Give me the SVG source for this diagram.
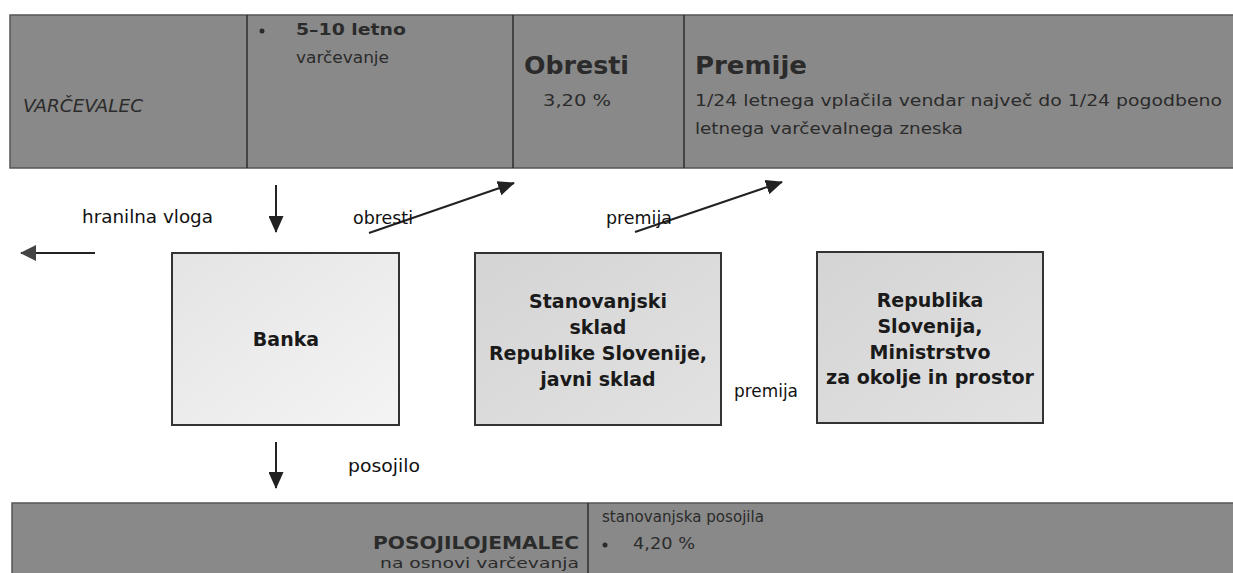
<svg xmlns="http://www.w3.org/2000/svg" width="1233" height="573" viewBox="0 0 1233 573">
<style>
.band{fill:#898989;stroke:#555;stroke-width:1.5}
.div{stroke:#2e2e2e;stroke-width:1.5}
.bt{font-family:"DejaVu Sans",Verdana,sans-serif;fill:#2b2b2b}
.bold{font-weight:bold}
.lbl{font-family:"DejaVu Sans",Verdana,sans-serif;font-size:17.5px;fill:#111}
.box{stroke:#333;stroke-width:2}
.bx{font-family:"DejaVu Sans",Verdana,sans-serif;font-weight:bold;font-size:19px;fill:#1a1a1a;text-anchor:middle}
.con{stroke:#222;stroke-width:2;fill:none}
</style>
<defs>
<linearGradient id="g1" x1="0" y1="0" x2="1" y2="1">
<stop offset="0" stop-color="#e4e4e4"/><stop offset="1" stop-color="#f4f4f4"/>
</linearGradient>
<linearGradient id="g2" x1="0" y1="0" x2="1" y2="1">
<stop offset="0" stop-color="#d4d4d4"/><stop offset="1" stop-color="#e2e2e2"/>
</linearGradient>
<marker id="ah" viewBox="0 0 17 15" refX="16" refY="7.5" markerWidth="17" markerHeight="15" markerUnits="userSpaceOnUse" orient="auto">
<path d="M0,0 L17,7.5 L0,15 Z" fill="#222"/>
</marker>
<marker id="ahg" viewBox="0 0 16 16" refX="15" refY="8" markerWidth="16" markerHeight="16" markerUnits="userSpaceOnUse" orient="auto">
<path d="M0,0 L16,8 L0,16 Z" fill="#444"/>
</marker>
</defs>
<rect width="1233" height="573" fill="#ffffff"/>

<g id="varcevalec">
<rect class="band" x="10" y="15" width="1225" height="153"/>
<line class="div" x1="247" y1="15" x2="247" y2="168"/>
<line class="div" x1="513" y1="15" x2="513" y2="168"/>
<line class="div" x1="684" y1="15" x2="684" y2="168"/>
<text class="bt" x="23" y="112" font-size="17" font-style="italic" textLength="120" lengthAdjust="spacingAndGlyphs">VARČEVALEC</text>
<circle cx="262" cy="31" r="2.5" fill="#2b2b2b"/>
<text class="bt bold" x="296" y="35" font-size="16" textLength="110" lengthAdjust="spacingAndGlyphs">5–10 letno</text>
<text class="bt" x="296" y="63" font-size="16" textLength="93" lengthAdjust="spacingAndGlyphs">varčevanje</text>
<text class="bt bold" x="524" y="74" font-size="25" textLength="105" lengthAdjust="spacingAndGlyphs">Obresti</text>
<text class="bt" x="543" y="106" font-size="16" textLength="68" lengthAdjust="spacingAndGlyphs">3,20 %</text>
<text class="bt bold" x="695" y="74" font-size="25" textLength="112" lengthAdjust="spacingAndGlyphs">Premije</text>
<text class="bt" x="695" y="106" font-size="15.5" textLength="527" lengthAdjust="spacingAndGlyphs">1/24 letnega vplačila vendar največ do 1/24 pogodbeno</text>
<text class="bt" x="695" y="134" font-size="15.5" textLength="268" lengthAdjust="spacingAndGlyphs">letnega varčevalnega zneska</text>
</g>

<g id="banka">
<rect class="box" x="172" y="253" width="227" height="172" fill="url(#g1)" stroke="#555"/>
<text class="bx" x="286" y="346">Banka</text>
</g>

<g id="stanovanjski-sklad">
<rect class="box" x="475" y="253" width="246" height="172" fill="url(#g2)"/>
<text class="bx" x="598" y="308">Stanovanjski</text>
<text class="bx" x="598" y="334">sklad</text>
<text class="bx" x="598" y="360">Republike Slovenije,</text>
<text class="bx" x="598" y="386">javni sklad</text>
</g>

<g id="ministrstvo">
<rect class="box" x="817" y="252" width="226" height="171" fill="url(#g2)"/>
<text class="bx" x="930" y="307">Republika</text>
<text class="bx" x="930" y="333">Slovenija,</text>
<text class="bx" x="930" y="359">Ministrstvo</text>
<text class="bx" x="930" y="384" textLength="208" lengthAdjust="spacingAndGlyphs">za okolje in prostor</text>
</g>

<g id="posojilojemalec">
<rect class="band" x="12" y="503" width="1223" height="75"/>
<line class="div" x1="588" y1="503" x2="588" y2="573"/>
<text class="bt bold" x="579" y="549" font-size="18" text-anchor="end" textLength="206" lengthAdjust="spacingAndGlyphs">POSOJILOJEMALEC</text>
<text class="bt" x="579" y="568" font-size="14" text-anchor="end" textLength="199" lengthAdjust="spacingAndGlyphs">na osnovi varčevanja</text>
<text class="bt" x="602" y="522" font-size="15" fill="#3a3a3a" textLength="162" lengthAdjust="spacingAndGlyphs">stanovanjska posojila</text>
<circle cx="605" cy="545" r="2.5" fill="#2b2b2b"/>
<text class="bt" x="633" y="549" font-size="15.5" textLength="62" lengthAdjust="spacingAndGlyphs">4,20 %</text>
</g>

<g id="connectors">
<line class="con" x1="276" y1="185" x2="276" y2="232" marker-end="url(#ah)"/>
<line class="con" x1="95" y1="253" x2="21" y2="253" stroke="#444" stroke-width="3" marker-end="url(#ahg)"/>
<line class="con" x1="369" y1="233" x2="514" y2="183" marker-end="url(#ah)"/>
<line class="con" x1="635" y1="232" x2="782" y2="182" marker-end="url(#ah)"/>
<line class="con" x1="276" y1="442" x2="276" y2="488" marker-end="url(#ah)"/>
</g>

<g id="labels">
<text class="lbl" x="82" y="223" font-size="18" textLength="131" lengthAdjust="spacingAndGlyphs">hranilna vloga</text>
<text class="lbl" x="353" y="224" textLength="60" lengthAdjust="spacingAndGlyphs">obresti</text>
<text class="lbl" x="606" y="224" textLength="66" lengthAdjust="spacingAndGlyphs">premija</text>
<text class="lbl" x="734" y="397" textLength="64" lengthAdjust="spacingAndGlyphs">premija</text>
<text class="lbl" x="348" y="472" textLength="72" lengthAdjust="spacingAndGlyphs">posojilo</text>
</g>
</svg>
